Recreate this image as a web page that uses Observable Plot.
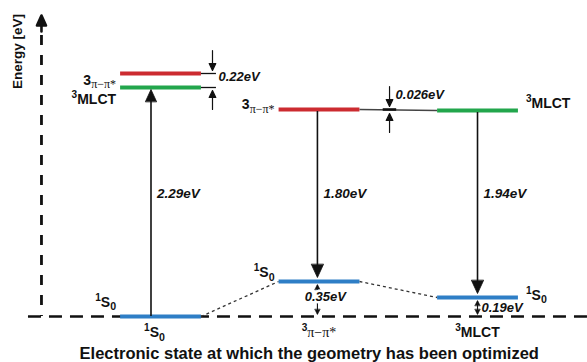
<!DOCTYPE html>
<html><head><meta charset="utf-8">
<script src="https://cdn.jsdelivr.net/npm/d3@7"></script>
<script src="https://cdn.jsdelivr.net/npm/@observablehq/plot@0.6"></script>
<style>
html,body{margin:0;padding:0;background:#fff;}
#chart svg{display:block;}
</style></head><body><div id="chart"></div>
<script>
// ---- data ----
// columns: electronic state at which the geometry has been optimized
const columnX = [1, 2, 3];
const columnLabelX = [0.962, 2.0, 3.0];
const columnLabels = ["^{1}S_{0}", "^{3}π−π*", "^{3}MLCT"];

// energy levels (eV, as drawn)
const levelColumn = [1, 1, 1, 2, 2, 3, 3];
const levelState  = ["1S0", "3MLCT", "3pipi", "3pipi", "1S0", "3MLCT", "1S0"];
const levelEnergy = [0, 2.29, 2.43, 2.07, 0.35, 2.06, 0.19];
const levelLabel  = ["^{1}S_{0}", "^{3}MLCT", "3_{π−π*}", "3_{π−π*}", "^{1}S_{0}", "^{3}MLCT", "^{1}S_{0}"];
const levelLabelE = [0.14, 2.165, 2.36, 2.115, 0.435, 2.125, 0.21];

// vertical transitions
const transX      = [0.94, 1.99, 3.0];
const transFrom   = [0, 2.07, 2.06];
const transTo     = [2.29, 0.35, 0.19];
const transLabel  = ["2.29eV", "1.80eV", "1.94eV"];
const transLabelE = [1.23, 1.23, 1.23];

// energy gaps
const gapLabel  = ["0.22eV", "0.026eV", "0.35eV", "0.19eV"];
const gapX      = [1.328, 2.445, 1.99, 3.0];
const gapLow    = [2.29, 2.06, 0, 0];
const gapHigh   = [2.43, 2.07, 0.35, 0.19];
const gapLabelX = [1.366, 2.483, 2.04, 3.025];
const gapLabelE = [2.40, 2.215, 0.195, 0.09];
const gapStyle  = ["outer", "outer", "inner", "inner"];

const xTitle = "Electronic state at which the geometry has been optimized";
const yTitle = "Energy [eV]";

// ---- derived tables ----
const HW = 0.255;
const stateColor = {"1S0": "#2e7ec6", "3MLCT": "#22a64c", "3pipi": "#cc2b30"};
const levels = levelColumn.map((c, i) => ({
  col: c, x1: c - HW, x2: c + HW, E: levelEnergy[i], state: levelState[i],
  label: levelLabel[i], labelE: levelLabelE[i]
}));
const ground = levels.filter(d => d.state === "1S0").sort((a, b) => a.col - b.col);
const groundLinks = d3.pairs(ground).map(([a, b]) => ({x1: a.x2, y1: a.E, x2: b.x1, y2: b.E}));
const excited = levels.filter(d => d.state !== "1S0" && d.col > 1).sort((a, b) => a.col - b.col);
const excitedLinks = d3.pairs(excited).map(([a, b]) => ({x1: a.x2, y1: a.E, x2: b.x1, y2: b.E}));
const trans = transX.map((x, i) => ({x, from: transFrom[i], to: transTo[i], label: transLabel[i], labelE: transLabelE[i],
  top: Math.max(transFrom[i], transTo[i]), bottom: Math.min(transFrom[i], transTo[i]), up: transTo[i] > transFrom[i]}));
const gaps = gapX.map((x, i) => ({x, low: gapLow[i], high: gapHigh[i], label: gapLabel[i], lx: gapLabelX[i], lE: gapLabelE[i], style: gapStyle[i]}));
const outer = gaps.filter(d => d.style === "outer");
const inner = gaps.filter(d => d.style === "inner");
const columns = columnX.map((x, i) => ({x: columnLabelX[i], label: columnLabels[i]}));
const axisLeftX = 0.249, axisStartX = 0.167, axisEndX = 3.71, axisTopE = 3.01;

const font = "'Liberation Sans', Arial, Helvetica, sans-serif";

// custom filled arrow shape (shaft + triangular head), tip at length l
const arrowShape = (hl, hw) => ({
  draw(ctx, l) {
    if (l > hl) { ctx.moveTo(0, 0); ctx.lineTo(0, -l + hl); }
    ctx.moveTo(-hw, -l + hl); ctx.lineTo(0, -l); ctx.lineTo(hw, -l + hl); ctx.closePath();
  }
});

const chart = Plot.plot({
  width: 587, height: 362,
  marginTop: 0, marginRight: 0, marginBottom: 0, marginLeft: 0,
  x: {domain: [-0.0095, 3.6939], axis: null},
  y: {domain: [-0.46, 3.16], axis: null},
  style: {background: "white", fontFamily: font, color: "black"},
  marks: [
    // baseline (x axis) dashed
    Plot.ruleY([0], {x1: axisStartX, x2: axisEndX, stroke: "#111", strokeWidth: 2.6, strokeDasharray: "13,8"}),
    // y axis dashed with arrow
    Plot.ruleX([axisLeftX], {y1: axisTopE - 0.2, y2: 0, stroke: "#111", strokeWidth: 2.8, strokeDasharray: "10,10"}),
    Plot.vector([axisLeftX], {x: d => d, y: axisTopE, anchor: "end", rotate: 0, length: 16,
      shape: arrowShape(10, 4.5), fill: "#111", stroke: "#111", strokeWidth: 2.6}),
    // connectors
    Plot.link(groundLinks, {x1: "x1", y1: "y1", x2: "x2", y2: "y2", stroke: "#333", strokeWidth: 1.3, strokeDasharray: "3,3"}),
    Plot.link(excitedLinks, {x1: "x1", y1: "y1", x2: "x2", y2: "y2", stroke: "#444", strokeWidth: 1.4}),
    // gap tick marks
    Plot.ruleY(outer.filter(d => d.high - d.low > 0.05).flatMap(d => [d.high, d.low]),
      {y: d => d, x1: 1.255, x2: 1.353, stroke: "#111", strokeWidth: 1.3}),
    Plot.ruleY(outer.filter(d => d.high - d.low <= 0.05), {y: "high", x1: d => d.x - 0.04, x2: d => d.x + 0.045, stroke: "#111", strokeWidth: 2.6}),
    // levels
    Plot.link(levels, {x1: "x1", x2: "x2", y1: "E", y2: "E", stroke: d => stateColor[d.state], strokeWidth: 4.2}),
    // transitions: shafts
    Plot.ruleX(trans.filter(d => d.up), {x: "x", y1: "top", y2: "bottom", insetTop: 10, stroke: "#111", strokeWidth: 1.6}),
    Plot.ruleX(trans.filter(d => !d.up), {x: "x", y1: "top", y2: "bottom", insetTop: 2, insetBottom: 12, stroke: "#111", strokeWidth: 1.6}),
    // transitions: heads
    Plot.vector(trans.filter(d => d.up), {x: "x", y: "to", anchor: "end", rotate: 0, length: 12, dy: 2,
      shape: arrowShape(12, 5.5), fill: "#111", stroke: "#111", strokeWidth: 0.8}),
    Plot.vector(trans.filter(d => !d.up), {x: "x", y: "to", anchor: "end", rotate: 180, length: 13, dy: -4,
      shape: arrowShape(13, 6), fill: "#111", stroke: "#111", strokeWidth: 0.8}),
    // outer gap arrows (pointing inward)
    Plot.vector(outer, {x: "x", y: "high", anchor: "end", rotate: 180, length: 20, dy: -3,
      shape: arrowShape(7, 3.3), fill: "#111", stroke: "#111", strokeWidth: 1.2}),
    Plot.vector(outer, {x: "x", y: "low", anchor: "end", rotate: 0, length: 19, dy: 3,
      shape: arrowShape(7, 3.3), fill: "#111", stroke: "#111", strokeWidth: 1.2}),
    // inner gap arrows (double headed)
    Plot.ruleX(inner, {x: "x", y1: "high", y2: "low", insetTop: 4, insetBottom: 2, stroke: "#111", strokeWidth: 1.1}),
    Plot.vector(inner, {x: "x", y: "high", anchor: "end", rotate: 0, length: 5, dy: 3,
      shape: arrowShape(5, 2.6), fill: "#111", stroke: "#111", strokeWidth: 0.6}),
    Plot.vector(inner, {x: "x", y: "low", anchor: "end", rotate: 180, length: 5, dy: -2,
      shape: arrowShape(5, 2.6), fill: "#111", stroke: "#111", strokeWidth: 0.6}),
    // level labels
    Plot.text(levels.filter(d => d.col < 3), {x: "x1", y: "labelE", text: "label", textAnchor: "end", dx: -4,
      fontSize: 14, fontWeight: "bold", fill: "#111"}),
    Plot.text(levels.filter(d => d.col === 3), {x: "x2", y: "labelE", text: "label", textAnchor: "start", dx: 8,
      fontSize: 14, fontWeight: "bold", fill: "#111"}),
    // transition labels
    Plot.text(trans, {x: "x", y: "labelE", text: "label", textAnchor: "start", dx: 6,
      fontSize: 13.5, fontWeight: "bold", fontStyle: "italic", fill: "#111"}),
    // gap labels
    Plot.text(gaps.filter(d => d.style === "outer" || d.label === "0.19eV"), {x: "lx", y: "lE", text: "label", textAnchor: "start",
      fontSize: 13, fontWeight: "bold", fontStyle: "italic", fill: "#111"}),
    Plot.text(gaps.filter(d => d.label === "0.35eV"), {x: "lx", y: "lE", text: "label", textAnchor: "middle",
      fontSize: 13, fontWeight: "bold", fontStyle: "italic", fill: "#111", stroke: "white", strokeWidth: 5}),
    // column (x tick) labels
    Plot.text(columns, {x: "x", y: -0.165, text: "label", textAnchor: "middle",
      fontSize: 14, fontWeight: "bold", fill: "#111"}),
    // x title
    Plot.text([xTitle], {x: (axisStartX + axisEndX) / 2, y: -0.37, text: d => d, textAnchor: "middle",
      fontSize: 16.5, fontWeight: "bold", fill: "#111"}),
    // y title
    Plot.text([yTitle], {x: 0.098, y: 2.65, text: d => d, rotate: -90, textAnchor: "middle",
      fontSize: 13.5, fontWeight: "bold", fill: "#111"})
  ]
});

document.getElementById("chart").appendChild(chart);

// rich text: ^{sup} and _{sub}
(function richText(svg) {
  const NS = "http://www.w3.org/2000/svg";
  svg.querySelectorAll("text").forEach(t => {
    const s = t.textContent;
    if (!/[\^_]\{/.test(s)) return;
    const fs = parseFloat(getComputedStyle(t).fontSize) || 12;
    while (t.firstChild) t.removeChild(t.firstChild);
    const re = /([\^_])\{([^}]*)\}|([^\^_]+)/g;
    let m, shift = 0;
    while ((m = re.exec(s))) {
      const ts = document.createElementNS(NS, "tspan");
      let target = 0, size = fs, txt;
      if (m[1] === "^") { target = -0.45 * fs; size = 0.72 * fs; txt = m[2]; }
      else if (m[1] === "_") { target = 0.22 * fs; size = (/π/.test(m[2]) ? 0.86 : 0.76) * fs; txt = m[2]; }
      else { txt = m[3]; }
      ts.setAttribute("font-size", size.toFixed(2));
      const d = target - shift;
      if (d) ts.setAttribute("dy", d.toFixed(2));
      shift = target;
      if (/π/.test(txt)) { ts.setAttribute("font-family", "'Liberation Serif', 'DejaVu Serif', serif"); ts.setAttribute("font-weight", "normal"); }
      ts.textContent = txt;
      t.appendChild(ts);
    }
  });
})(chart);
</script>
</body></html>
